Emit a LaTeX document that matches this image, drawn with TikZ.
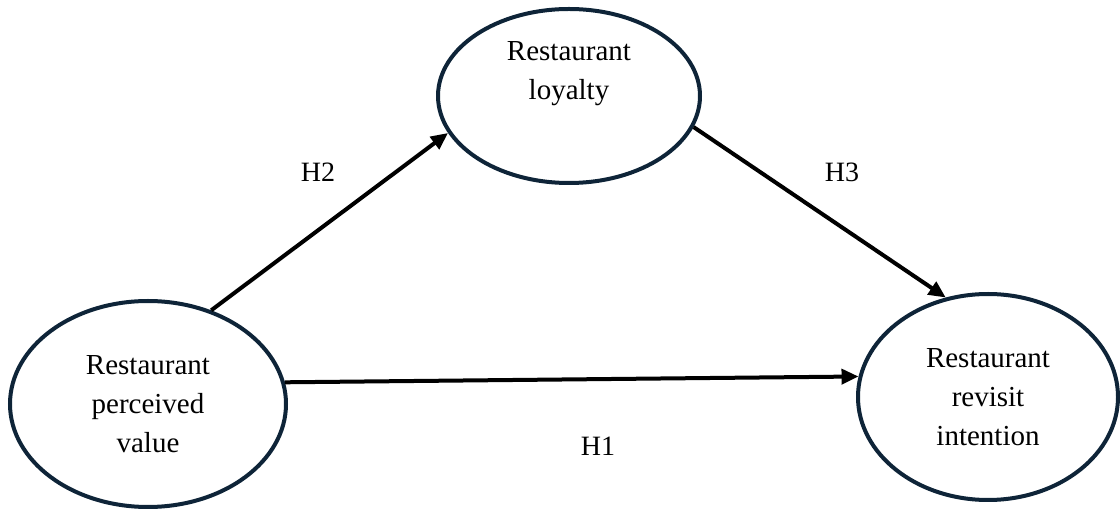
\documentclass[tikz,border=0pt]{standalone}
\usepackage{fontspec}
\setmainfont{Liberation Serif}
\usetikzlibrary{shapes.geometric,arrows.meta}
\definecolor{navy}{RGB}{14,36,56}
\begin{document}
\begin{tikzpicture}[x=1pt,y=-1pt,
  construct/.style={ellipse,draw=navy,line width=4pt,inner sep=0pt,align=center,
    font=\fontsize{29}{39}\selectfont},
  path/.style={draw=black,line width=4pt,-{Triangle[length=17pt,width=15pt]}},
  hyp/.style={font=\fontsize{28}{34}\selectfont}]
\useasboundingbox (0,0) rectangle (1120,510);
\node[construct,minimum width=276pt,minimum height=206pt] (pv) at (148,404) {Restaurant\\perceived\\value};
\node[construct,minimum width=262pt,minimum height=174pt] (loy) at (569,96) {Restaurant\\loyalty\\[12pt]};
\node[construct,minimum width=260pt,minimum height=206pt] (ri) at (988,397) {Restaurant\\revisit\\intention};
\draw[path] (pv.56) -- (loy.197);
\draw[path] (loy.346) -- (ri.113);
\draw[path] (pv.9) -- (ri.171);
\node[hyp] (h2) at (318,172) {H2};
\node[hyp] (h3) at (842,172) {H3};
\node[hyp] (h1) at (598,446) {H1};
\end{tikzpicture}
\end{document}
